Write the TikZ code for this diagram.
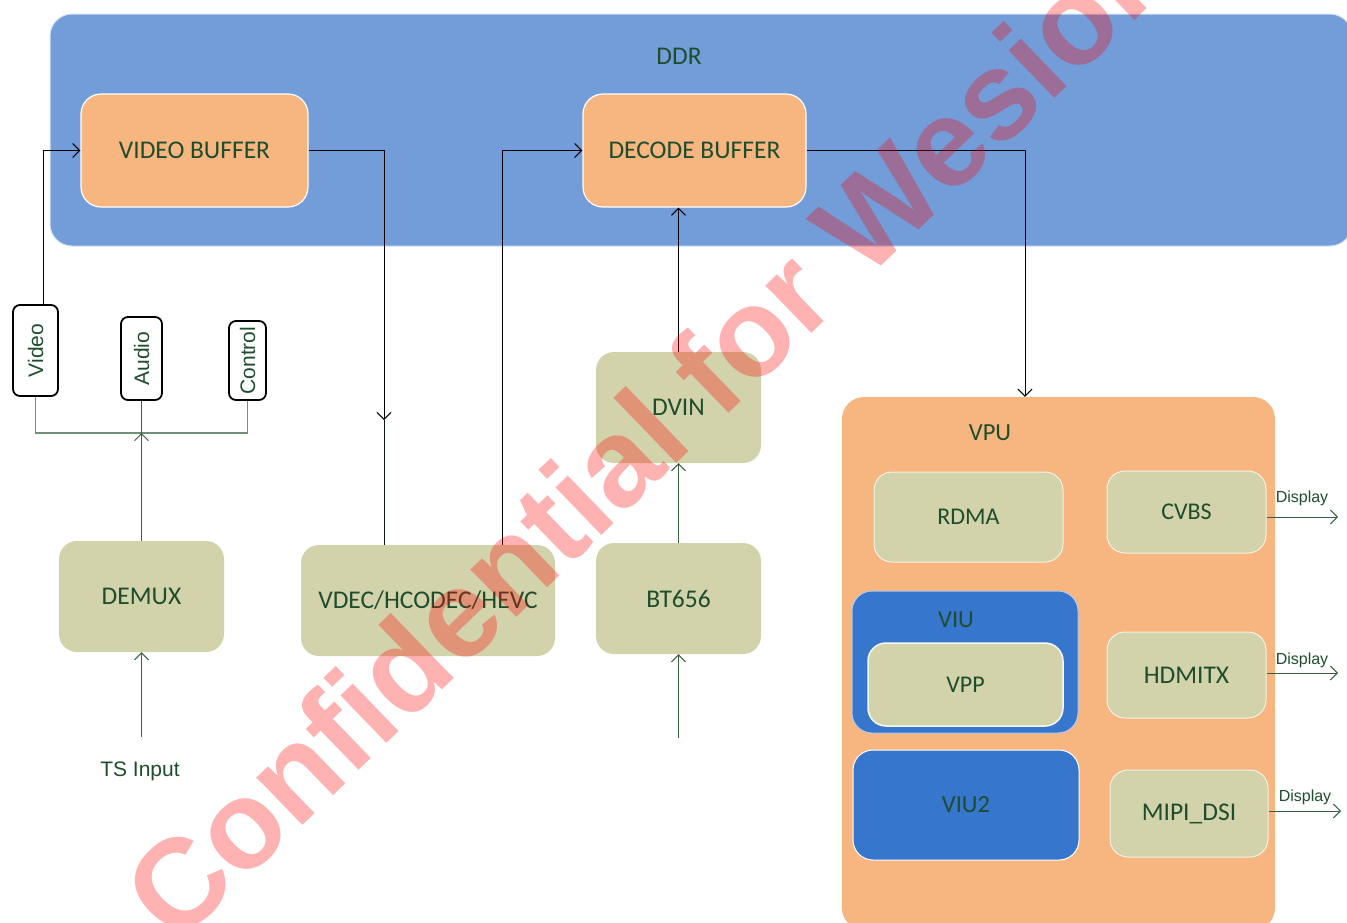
\documentclass[tikz,border=0pt]{standalone}
\usepackage{fontspec}
\setmainfont{Carlito}
\newfontfamily\arialf{Liberation Sans}
\usetikzlibrary{arrows.meta}
\definecolor{ddrblue}{RGB}{114,157,217}
\definecolor{buforange}{RGB}{247,181,127}
\definecolor{tanfill}{RGB}{211,211,171}
\definecolor{viublue}{RGB}{54,118,204}
\definecolor{txtgreen}{RGB}{30,77,45}
\definecolor{lngreen}{RGB}{56,95,66}
\definecolor{busgreen}{RGB}{110,145,120}
\begin{document}
\begin{tikzpicture}[x=1pt,y=-1pt,
  box/.style={rounded corners=20pt, inner sep=0pt, text=txtgreen,
    font=\fontsize{25.5}{30}\selectfont, align=center},
  bufbox/.style={box, fill=buforange, draw=white, line width=1.2pt},
  tanbox/.style={box, fill=tanfill, draw=none, rounded corners=18pt},
  vtanbox/.style={box, fill=tanfill, draw=white!70!tanfill, line width=1pt, rounded corners=18pt, font=\fontsize{24}{28}\selectfont},
  labbox/.style={draw=black, line width=1.8pt, rounded corners=7pt, fill=white,
    inner sep=0pt, text=txtgreen, font=\arialf\fontsize{21}{24}\selectfont},
  plain/.style={text=txtgreen, inner sep=0pt},
  tip/.style={-{Straight Barb[length=7pt,width=14pt]}},
  blk/.style={draw=black, line width=1pt},
  grn/.style={draw=lngreen, line width=1pt},
  bus/.style={draw=busgreen, line width=1.6pt}
]
\useasboundingbox (0,0) rectangle (1347,922);
\clip (0,0) rectangle (1347,922);

% DDR
\node (ddr) [box, fill=ddrblue, draw=white!70!ddrblue, line width=1pt, rounded corners=22pt,
  minimum width=1302pt, minimum height=232pt] at (701,130) {};
\node (ddrlabel) [plain, font=\fontsize{25.5}{30}\selectfont] at (679,56) {DDR};
\node (vbuf) [bufbox, minimum width=227pt, minimum height=113pt] at (194.5,150.5) {VIDEO BUFFER};
\node (dbuf) [bufbox, minimum width=223pt, minimum height=113pt] at (694.5,150.5) {DECODE BUFFER};

% stream labels
\node (vidlab) [labbox, minimum width=45pt, minimum height=91pt] at (35.5,350.5) {\rotatebox{90}{Video}};
\node (audlab) [labbox, minimum width=41pt, minimum height=83pt] at (141.5,358.5) {\rotatebox{90}{Audio}};
\node (ctllab) [labbox, minimum width=37pt, minimum height=79pt] at (247.5,360.5) {\rotatebox{90}{Control}};

% blocks
\node (demux) [tanbox, minimum width=165pt, minimum height=111pt] at (141.5,596.5) {DEMUX};
\node (vdec) [tanbox, minimum width=254pt, minimum height=111pt] at (428,600.5) {VDEC/HCODEC/HEVC};
\node (bt656) [tanbox, minimum width=165pt, minimum height=111pt] at (678.5,598.5) {BT656};
\node (dvin) [tanbox, minimum width=165pt, minimum height=111pt] at (678.5,407.5) {DVIN};
\node (tslabel) [plain, font=\arialf\fontsize{21}{24}\selectfont] at (140,771) {TS Input};

% VPU
\node (vpu) [box, fill=buforange, draw=none, rounded corners=22pt,
  minimum width=433pt, minimum height=533pt] at (1058.5,663.5) {};
\node (vpulabel) [plain, font=\fontsize{24.5}{28}\selectfont] at (990,433) {VPU};
\node (rdma) [vtanbox, minimum width=189pt, minimum height=90pt] at (968.5,517) {RDMA};
\node (cvbs) [vtanbox, minimum width=159pt, minimum height=82pt] at (1186.5,512) {CVBS};
\node (viu) [box, fill=viublue, draw=white!60!viublue, line width=1pt, rounded corners=20pt,
  minimum width=226pt, minimum height=142pt] at (965,662) {};
\node (viulabel) [plain, font=\fontsize{24.5}{28}\selectfont] at (956,620) {VIU};
\node (vpp) [vtanbox, draw=white!85!tanfill, line width=1.5pt, minimum width=195pt, minimum height=83pt] at (965.5,684.5) {VPP};
\node (viu2) [box, fill=viublue, draw=white, line width=1pt, rounded corners=20pt,
  minimum width=226pt, minimum height=110pt, font=\fontsize{24.5}{28}\selectfont] at (966,805) {VIU2};
\node (hdmi) [vtanbox, font=\fontsize{25.5}{30}\selectfont, minimum width=159pt, minimum height=86pt] at (1186.5,675) {HDMITX};
\node (mipi) [vtanbox, font=\fontsize{25.5}{30}\selectfont, minimum width=158pt, minimum height=87pt] at (1189,813.5) {MIPI\_DSI};

% coordinates
\coordinate (busc) at (141.5,433);
\coordinate (vmid) at (384,420);
\coordinate (tsin) at (141.5,737);
\coordinate (btin) at (678.5,738);
\coordinate (d1) at (1338,517);
\coordinate (d2) at (1338,673);
\coordinate (d3) at (1341,811);

% connectors
\draw[blk, tip] ([xshift=7.5pt]vidlab.north) |- (vbuf.west);
\draw[bus] (vidlab.south) |- (busc) -| (ctllab.south);
\draw[grn] (audlab.south) -- (busc);
\draw[grn, tip] (demux.north) -- (busc);
\draw[grn, tip] (tsin) -- (demux.south);
\draw[blk, tip] (vbuf.east) -| (vmid);
\draw[draw=black!75!lngreen, line width=1pt] (vmid) -- (vmid |- vdec.north);
\draw[blk, tip] ([xshift=74pt]vdec.north) |- (dbuf.west);
\draw[grn, tip] (btin) -- (bt656.south);
\draw[grn, tip] (bt656.north) -- (dvin.south);
\draw[blk, tip] (dvin.north) -- (dvin.north |- dbuf.south);
\draw[blk, tip] (dbuf.east) -| ([xshift=-33.5pt]vpu.north);

\draw[grn, tip] (cvbs.east |- d1) -- (d1);
\draw[grn, tip] (hdmi.east |- d2) -- (d2);
\draw[grn, tip] (mipi.east |- d3) -- (d3);
\node (disp1) [plain, font=\arialf\fontsize{16}{18}\selectfont] at (1302,498) {Display};
\node (disp2) [plain, font=\arialf\fontsize{16}{18}\selectfont] at (1302,660) {Display};
\node (disp3) [plain, font=\arialf\fontsize{16}{18}\selectfont] at (1305,797) {Display};

% watermark
\node (wm) [rotate=44, anchor=base west, inner sep=0pt, text=red, text opacity=0.3,
  font=\arialf\bfseries\fontsize{125}{125}\selectfont] at (176,947) {Confidential for Wesion};
\end{tikzpicture}
\end{document}
